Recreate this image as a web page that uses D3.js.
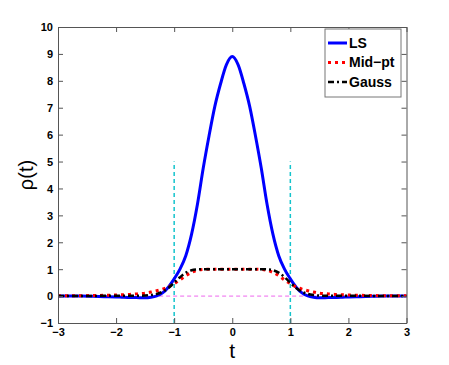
<!DOCTYPE html>
<html>
<head>
<meta charset="utf-8">
<script src="https://cdn.jsdelivr.net/npm/d3@7"></script>
<style>
  body { margin: 0; background: #fff; }
  svg { display: block; font-family: "Liberation Sans", Arial, sans-serif; }
  .tick text { font-weight: bold; font-size: 11px; fill: #000; }
  .axis path, .axis line { stroke: #555; }
</style>
</head>
<body>
<div id="visualization"><svg></svg></div>
<script>
// sample points along t
const tValues = [-3, -2.8, -2.6, -2.4, -2.2, -2, -1.9, -1.8, -1.7, -1.6, -1.5, -1.4, -1.3, -1.2, -1.1,
  -1, -0.9, -0.8, -0.7, -0.6, -0.5, -0.4, -0.3, -0.2, -0.1, 0,
  0.1, 0.2, 0.3, 0.4, 0.5, 0.6, 0.7, 0.8, 0.9, 1,
  1.1, 1.2, 1.3, 1.4, 1.5, 1.6, 1.7, 1.8, 1.9, 2, 2.2, 2.4, 2.6, 2.8, 3];

const lsValues = [0, 0, 0, -0.01, -0.02, -0.03, -0.04, -0.05, -0.05, -0.06, -0.06, -0.04, 0.01, 0.12, 0.33,
  0.64, 1.0, 1.5, 2.3, 3.4, 4.75, 5.95, 7.05, 7.9, 8.6, 8.9,
  8.6, 7.9, 7.05, 5.95, 4.75, 3.4, 2.3, 1.5, 1.0, 0.64,
  0.33, 0.12, 0.01, -0.04, -0.06, -0.06, -0.05, -0.05, -0.04, -0.03, -0.02, -0.01, 0, 0, 0];

const midValues = [0.01, 0.01, 0.015, 0.02, 0.03, 0.04, 0.05, 0.06, 0.07, 0.09, 0.11, 0.15, 0.2, 0.26, 0.34,
  0.46, 0.6, 0.76, 0.88, 0.96, 0.99, 1, 1, 1, 1, 1,
  1, 1, 1, 1, 0.99, 0.96, 0.88, 0.76, 0.6, 0.46,
  0.34, 0.26, 0.2, 0.15, 0.11, 0.09, 0.07, 0.06, 0.05, 0.04, 0.03, 0.02, 0.015, 0.01, 0.01];

const gaussValues = [0, 0, 0.005, 0.005, 0.01, 0.01, 0.01, 0.01, 0.01, 0.01, 0.02, 0.04, 0.08, 0.16, 0.3,
  0.5, 0.7, 0.87, 0.96, 0.99, 1, 1, 1, 1, 1, 1,
  1, 1, 1, 1, 1, 0.99, 0.96, 0.87, 0.7, 0.5,
  0.3, 0.16, 0.08, 0.04, 0.02, 0.01, 0.01, 0.01, 0.01, 0.01, 0.01, 0.005, 0.005, 0, 0];

const seriesNames = ['LS', 'Mid\u2212pt', 'Gauss'];
const xTicks = [-3, -2, -1, 0, 1, 2, 3];
const yTicks = [-1, 0, 1, 2, 3, 4, 5, 6, 7, 8, 9, 10];
const boundaryT = [-1, 1];   // vertical dashed markers
const boundaryY = [-1, 5];
const zeroLineT = [-1.5, 1.5];

const xLabel = 't';
const yLabel = '\u03c1(t)';

const width = 449, height = 365;
const margin = { left: 58, right: 42.5, top: 27, bottom: 42 };
const innerWidth = width - margin.left - margin.right;
const innerHeight = height - margin.top - margin.bottom;

const svg = d3.select('#visualization svg')
  .attr('width', width)
  .attr('height', height);

const xScale = d3.scaleLinear().domain([-3, 3]).range([0, innerWidth]);
const yScale = d3.scaleLinear().domain([-1, 10]).range([innerHeight, 0]);
const fmt = d3.format('d');

const g = svg.append('g')
  .attr('transform', `translate(${margin.left},${margin.top})`);

// reference lines
g.append('line')
  .attr('x1', xScale(zeroLineT[0])).attr('x2', xScale(zeroLineT[1]))
  .attr('y1', yScale(0)).attr('y2', yScale(0))
  .attr('stroke', '#ee66ee').attr('stroke-width', 1)
  .attr('stroke-dasharray', '4,3');

g.selectAll('.boundary').data(boundaryT)
  .enter().append('line')
    .attr('class', 'boundary')
    .attr('x1', d => xScale(d)).attr('x2', d => xScale(d))
    .attr('y1', yScale(boundaryY[0])).attr('y2', yScale(boundaryY[1]))
    .attr('stroke', '#14c4cc').attr('stroke-width', 1.5)
    .attr('stroke-dasharray', '4,3');

const series = [
  { name: seriesNames[0], values: lsValues, color: '#0000ff', width: 3, dash: null },
  { name: seriesNames[1], values: midValues, color: '#ff0000', width: 3, dash: '3,4' },
  { name: seriesNames[2], values: gaussValues, color: '#000000', width: 2.5, dash: '6,3,2,3' }
];

const line = d3.line()
  .x((d, i) => xScale(tValues[i]))
  .y(d => yScale(d))
  .curve(d3.curveMonotoneX);

g.selectAll('.curve').data(series)
  .enter().append('path')
    .attr('class', 'curve')
    .attr('d', d => line(d.values))
    .attr('fill', 'none')
    .attr('stroke', d => d.color)
    .attr('stroke-width', d => d.width)
    .attr('stroke-dasharray', d => d.dash);

// axes, ticks pointing inward, mirrored on top and right
const xAxisG = g.append('g').attr('class', 'axis')
  .attr('transform', `translate(0,${innerHeight})`)
  .call(d3.axisBottom(xScale).tickValues(xTicks).tickSize(-5).tickPadding(5).tickSizeOuter(0).tickFormat(fmt));
xAxisG.selectAll('.tick text').attr('dy', '0.75em');

const yAxisG = g.append('g').attr('class', 'axis')
  .call(d3.axisLeft(yScale).tickValues(yTicks).tickSize(-5).tickPadding(5).tickSizeOuter(0).tickFormat(fmt));
yAxisG.selectAll('.tick text').attr('dy', '0.35em');

const topAxisG = g.append('g').attr('class', 'axis')
  .call(d3.axisTop(xScale).tickValues(xTicks).tickSize(-5).tickSizeOuter(0));
const rightAxisG = g.append('g').attr('class', 'axis')
  .attr('transform', `translate(${innerWidth},0)`)
  .call(d3.axisRight(yScale).tickValues(yTicks).tickSize(-5).tickSizeOuter(0));
topAxisG.selectAll('.tick text').remove();
rightAxisG.selectAll('.tick text').remove();

// axis labels
g.append('text')
  .attr('x', innerWidth / 2)
  .attr('y', innerHeight + 35)
  .attr('text-anchor', 'middle')
  .style('font-size', '21px')
  .text(xLabel);

g.append('text')
  .attr('transform', `translate(${-25},${yScale(4.5)}) rotate(-90)`)
  .attr('text-anchor', 'middle')
  .style('font-size', '20px')
  .text(yLabel);

// legend
const legend = g.append('g')
  .attr('transform', `translate(${325 - margin.left},${29 - margin.top})`);
legend.append('rect')
  .attr('width', 76).attr('height', 68)
  .attr('fill', '#fff').attr('stroke', '#777').attr('stroke-width', 1);

const legendItem = legend.selectAll('.legend-item').data(series)
  .enter().append('g')
    .attr('class', 'legend-item')
    .attr('transform', (d, i) => `translate(0,${14 + i * 19.5})`);
legendItem.append('line')
  .attr('x1', 3).attr('x2', 22)
  .attr('stroke', d => d.color)
  .attr('stroke-width', d => d.width)
  .attr('stroke-dasharray', d => d.dash);
legendItem.append('text')
  .attr('x', 24)
  .attr('dy', '0.35em')
  .style('font-size', '14px')
  .style('font-weight', 'bold')
  .text(d => d.name);
</script>
</body>
</html>
